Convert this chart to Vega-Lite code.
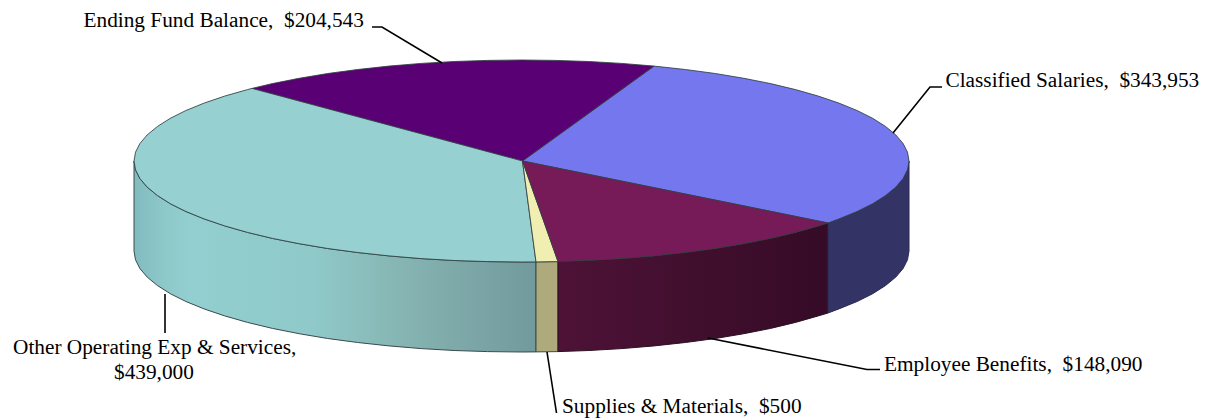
{
"$schema":"https://vega.github.io/schema/vega-lite/v6.json",
"width":1208,"height":420,"padding":0,"autosize":{"type":"none"},"background":"white",
"config":{"view":{"stroke":null}},
"datasets":{
"walls":[
{"slice":"other","x":-387.5,"y":0,"yb":-90},{"slice":"other","x":-386,"y":-8.8,"yb":-98.8},{"slice":"other","x":-381.6,"y":-17.5,"yb":-107.5},{"slice":"other","x":-374.3,"y":-26.1,"yb":-116.1},{"slice":"other","x":-364.1,"y":-34.5,"yb":-124.5},{"slice":"other","x":-351.2,"y":-42.7,"yb":-132.7},{"slice":"other","x":-335.6,"y":-50.5,"yb":-140.5},{"slice":"other","x":-317.4,"y":-57.9,"yb":-147.9},{"slice":"other","x":-296.8,"y":-64.9,"yb":-154.9},{"slice":"other","x":-274,"y":-71.4,"yb":-161.4},{"slice":"other","x":-249.1,"y":-77.4,"yb":-167.4},{"slice":"other","x":-222.3,"y":-82.7,"yb":-172.7},{"slice":"other","x":-193.8,"y":-87.5,"yb":-177.5},{"slice":"other","x":-163.8,"y":-91.5,"yb":-181.5},{"slice":"other","x":-132.5,"y":-94.9,"yb":-184.9},{"slice":"other","x":-100.3,"y":-97.6,"yb":-187.6},{"slice":"other","x":-67.3,"y":-99.5,"yb":-189.5},{"slice":"other","x":-33.8,"y":-100.6,"yb":-190.6},{"slice":"other","x":0,"y":-101,"yb":-191},{"slice":"other","x":14.5,"y":-100.9,"yb":-190.9},
{"slice":"supplies","x":14.5,"y":-100.9,"yb":-190.9},{"slice":"supplies","x":36.5,"y":-100.6,"yb":-190.6},
{"slice":"employee","x":36.5,"y":-100.6,"yb":-190.6},{"slice":"employee","x":67.3,"y":-99.5,"yb":-189.5},{"slice":"employee","x":100.3,"y":-97.6,"yb":-187.6},{"slice":"employee","x":132.5,"y":-94.9,"yb":-184.9},{"slice":"employee","x":163.8,"y":-91.5,"yb":-181.5},{"slice":"employee","x":193.8,"y":-87.5,"yb":-177.5},{"slice":"employee","x":222.3,"y":-82.7,"yb":-172.7},{"slice":"employee","x":249.1,"y":-77.4,"yb":-167.4},{"slice":"employee","x":274,"y":-71.4,"yb":-161.4},{"slice":"employee","x":296.8,"y":-64.9,"yb":-154.9},{"slice":"employee","x":306.5,"y":-62,"yb":-152},
{"slice":"classified","x":306.5,"y":-62,"yb":-152},{"slice":"classified","x":317.4,"y":-57.9,"yb":-147.9},{"slice":"classified","x":335.6,"y":-50.5,"yb":-140.5},{"slice":"classified","x":351.2,"y":-42.7,"yb":-132.7},{"slice":"classified","x":364.1,"y":-34.5,"yb":-124.5},{"slice":"classified","x":374.3,"y":-26.1,"yb":-116.1},{"slice":"classified","x":381.6,"y":-17.5,"yb":-107.5},{"slice":"classified","x":386,"y":-8.8,"yb":-98.8},{"slice":"classified","x":387.5,"y":0,"yb":-90}
],
"tops":[
{"slice":"classified","x":1,"y":0},{"slice":"classified","x":306.5,"y":-62},{"slice":"classified","x":317.4,"y":-57.9},{"slice":"classified","x":335.6,"y":-50.5},{"slice":"classified","x":351.2,"y":-42.7},{"slice":"classified","x":364.1,"y":-34.5},{"slice":"classified","x":374.3,"y":-26.1},{"slice":"classified","x":381.6,"y":-17.5},{"slice":"classified","x":386,"y":-8.8},{"slice":"classified","x":387.5,"y":0},{"slice":"classified","x":386,"y":8.8},{"slice":"classified","x":381.6,"y":17.5},{"slice":"classified","x":374.3,"y":26.1},{"slice":"classified","x":364.1,"y":34.5},{"slice":"classified","x":351.2,"y":42.7},{"slice":"classified","x":335.6,"y":50.5},{"slice":"classified","x":317.4,"y":57.9},{"slice":"classified","x":296.8,"y":64.9},{"slice":"classified","x":274,"y":71.4},{"slice":"classified","x":249.1,"y":77.4},{"slice":"classified","x":222.3,"y":82.7},{"slice":"classified","x":193.8,"y":87.5},{"slice":"classified","x":163.8,"y":91.5},{"slice":"classified","x":132.5,"y":94.9},{"slice":"classified","x":1,"y":0},
{"slice":"ending","x":1,"y":0},{"slice":"ending","x":132.5,"y":94.9},{"slice":"ending","x":100.3,"y":97.6},{"slice":"ending","x":67.3,"y":99.5},{"slice":"ending","x":33.8,"y":100.6},{"slice":"ending","x":0,"y":101},{"slice":"ending","x":-33.8,"y":100.6},{"slice":"ending","x":-67.3,"y":99.5},{"slice":"ending","x":-100.3,"y":97.6},{"slice":"ending","x":-132.5,"y":94.9},{"slice":"ending","x":-163.8,"y":91.5},{"slice":"ending","x":-193.8,"y":87.5},{"slice":"ending","x":-222.3,"y":82.7},{"slice":"ending","x":-249.1,"y":77.4},{"slice":"ending","x":-269.5,"y":72.6},{"slice":"ending","x":1,"y":0},
{"slice":"other","x":1,"y":0},{"slice":"other","x":-269.5,"y":72.6},{"slice":"other","x":-274,"y":71.4},{"slice":"other","x":-296.8,"y":64.9},{"slice":"other","x":-317.4,"y":57.9},{"slice":"other","x":-335.6,"y":50.5},{"slice":"other","x":-351.2,"y":42.7},{"slice":"other","x":-364.1,"y":34.5},{"slice":"other","x":-374.3,"y":26.1},{"slice":"other","x":-381.6,"y":17.5},{"slice":"other","x":-386,"y":8.8},{"slice":"other","x":-387.5,"y":0},{"slice":"other","x":-386,"y":-8.8},{"slice":"other","x":-381.6,"y":-17.5},{"slice":"other","x":-374.3,"y":-26.1},{"slice":"other","x":-364.1,"y":-34.5},{"slice":"other","x":-351.2,"y":-42.7},{"slice":"other","x":-335.6,"y":-50.5},{"slice":"other","x":-317.4,"y":-57.9},{"slice":"other","x":-296.8,"y":-64.9},{"slice":"other","x":-274,"y":-71.4},{"slice":"other","x":-249.1,"y":-77.4},{"slice":"other","x":-222.3,"y":-82.7},{"slice":"other","x":-193.8,"y":-87.5},{"slice":"other","x":-163.8,"y":-91.5},{"slice":"other","x":-132.5,"y":-94.9},{"slice":"other","x":-100.3,"y":-97.6},{"slice":"other","x":-67.3,"y":-99.5},{"slice":"other","x":-33.8,"y":-100.6},{"slice":"other","x":0,"y":-101},{"slice":"other","x":14.5,"y":-100.9},{"slice":"other","x":1,"y":0},
{"slice":"supplies","x":1,"y":0},{"slice":"supplies","x":14.5,"y":-100.9},{"slice":"supplies","x":36.5,"y":-100.6},{"slice":"supplies","x":1,"y":0},
{"slice":"employee","x":1,"y":0},{"slice":"employee","x":36.5,"y":-100.6},{"slice":"employee","x":67.3,"y":-99.5},{"slice":"employee","x":100.3,"y":-97.6},{"slice":"employee","x":132.5,"y":-94.9},{"slice":"employee","x":163.8,"y":-91.5},{"slice":"employee","x":193.8,"y":-87.5},{"slice":"employee","x":222.3,"y":-82.7},{"slice":"employee","x":249.1,"y":-77.4},{"slice":"employee","x":274,"y":-71.4},{"slice":"employee","x":296.8,"y":-64.9},{"slice":"employee","x":306.5,"y":-62},{"slice":"employee","x":1,"y":0}
],
"leaders":[
{"slice":"ending","x":-149.5,"y":134},{"slice":"ending","x":-139.5,"y":134},{"slice":"ending","x":-79.5,"y":98},
{"slice":"classified","x":420.5,"y":74},{"slice":"classified","x":408.5,"y":74},{"slice":"classified","x":371.5,"y":28},
{"slice":"employee","x":358.5,"y":-208.5},{"slice":"employee","x":345.5,"y":-208.5},{"slice":"employee","x":186.5,"y":-177},
{"slice":"supplies","x":25.5,"y":-191},{"slice":"supplies","x":35,"y":-252},
{"slice":"other","x":-356.5,"y":-133},{"slice":"other","x":-356.5,"y":-172}
],
"labels":[
{"slice":"ending","value":204543,"label":"Ending Fund Balance, \u00a0$204,543","x":-438,"y":134},
{"slice":"classified","value":343953,"label":"Classified Salaries, \u00a0$343,953","x":424,"y":74},
{"slice":"employee","value":148090,"label":"Employee Benefits, \u00a0$148,090","x":362.5,"y":-210},
{"slice":"supplies","value":500,"label":"Supplies & Materials, \u00a0$500","x":40.5,"y":-252},
{"slice":"other","value":439000,"label":"Other Operating Exp & Services,","x":-508.5,"y":-193},
{"slice":"other","value":439000,"label":"$439,000","x":-407.5,"y":-218}
]
},
"encoding":{
"x":{"field":"x","type":"quantitative","axis":null,"scale":{"domain":[-521.5,686.5],"nice":false,"zero":false}},
"y":{"field":"y","type":"quantitative","axis":null,"stack":null,"scale":{"domain":[-259,161],"nice":false,"zero":false}}
},
"layer":[
{"data":{"name":"walls"},"transform":[{"filter":"datum.slice==='other'"}],
"mark":{"type":"area","orient":"vertical","stroke":"#3a4a4c","strokeWidth":1,"fill":{"gradient":"linear","x1":0,"y1":0,"x2":1,"y2":0,"stops":[{"offset":0,"color":"#82bbbf"},{"offset":0.08,"color":"#8ec9ca"},{"offset":0.14,"color":"#93cfd0"},{"offset":0.45,"color":"#8fc9c9"},{"offset":0.62,"color":"#88b9b7"},{"offset":0.8,"color":"#7ea9a9"},{"offset":1,"color":"#729a9c"}]}},
"encoding":{"y2":{"field":"yb"}}},
{"data":{"name":"walls"},"transform":[{"filter":"datum.slice==='supplies'"}],
"mark":{"type":"area","orient":"vertical","stroke":"#3a4a4c","strokeWidth":1,"fill":"#aeaa7c"},
"encoding":{"y2":{"field":"yb"}}},
{"data":{"name":"walls"},"transform":[{"filter":"datum.slice==='employee'"}],
"mark":{"type":"area","orient":"vertical","stroke":"#2a1020","strokeWidth":1,"fill":{"gradient":"linear","x1":0,"y1":0,"x2":1,"y2":0,"stops":[{"offset":0,"color":"#4e1237"},{"offset":0.5,"color":"#410f2e"},{"offset":1,"color":"#350b27"}]}},
"encoding":{"y2":{"field":"yb"}}},
{"data":{"name":"walls"},"transform":[{"filter":"datum.slice==='classified'"}],
"mark":{"type":"area","orient":"vertical","stroke":"#2a2a50","strokeWidth":1,"fill":"#333366"},
"encoding":{"y2":{"field":"yb"}}},
{"data":{"name":"tops"},
"mark":{"type":"line","stroke":"#2f3f42","strokeWidth":1,"strokeOpacity":0.85},
"encoding":{"order":{"value":null},"detail":{"field":"slice"},
"fill":{"field":"slice","type":"nominal","legend":null,"scale":{"domain":["classified","ending","other","supplies","employee"],"range":["#7577ef","#590074","#96d0d1","#f0eeb0","#761b58"]}}}},
{"data":{"name":"leaders"},
"mark":{"type":"line","stroke":"#000000","strokeWidth":1.6},
"encoding":{"order":{"value":null},"detail":{"field":"slice"}}},
{"data":{"name":"labels"},
"mark":{"type":"text","align":"left","baseline":"alphabetic","font":"Liberation Serif","fontSize":21.3,"color":"#000000"},
"encoding":{"text":{"field":"label"}}}
]
}
